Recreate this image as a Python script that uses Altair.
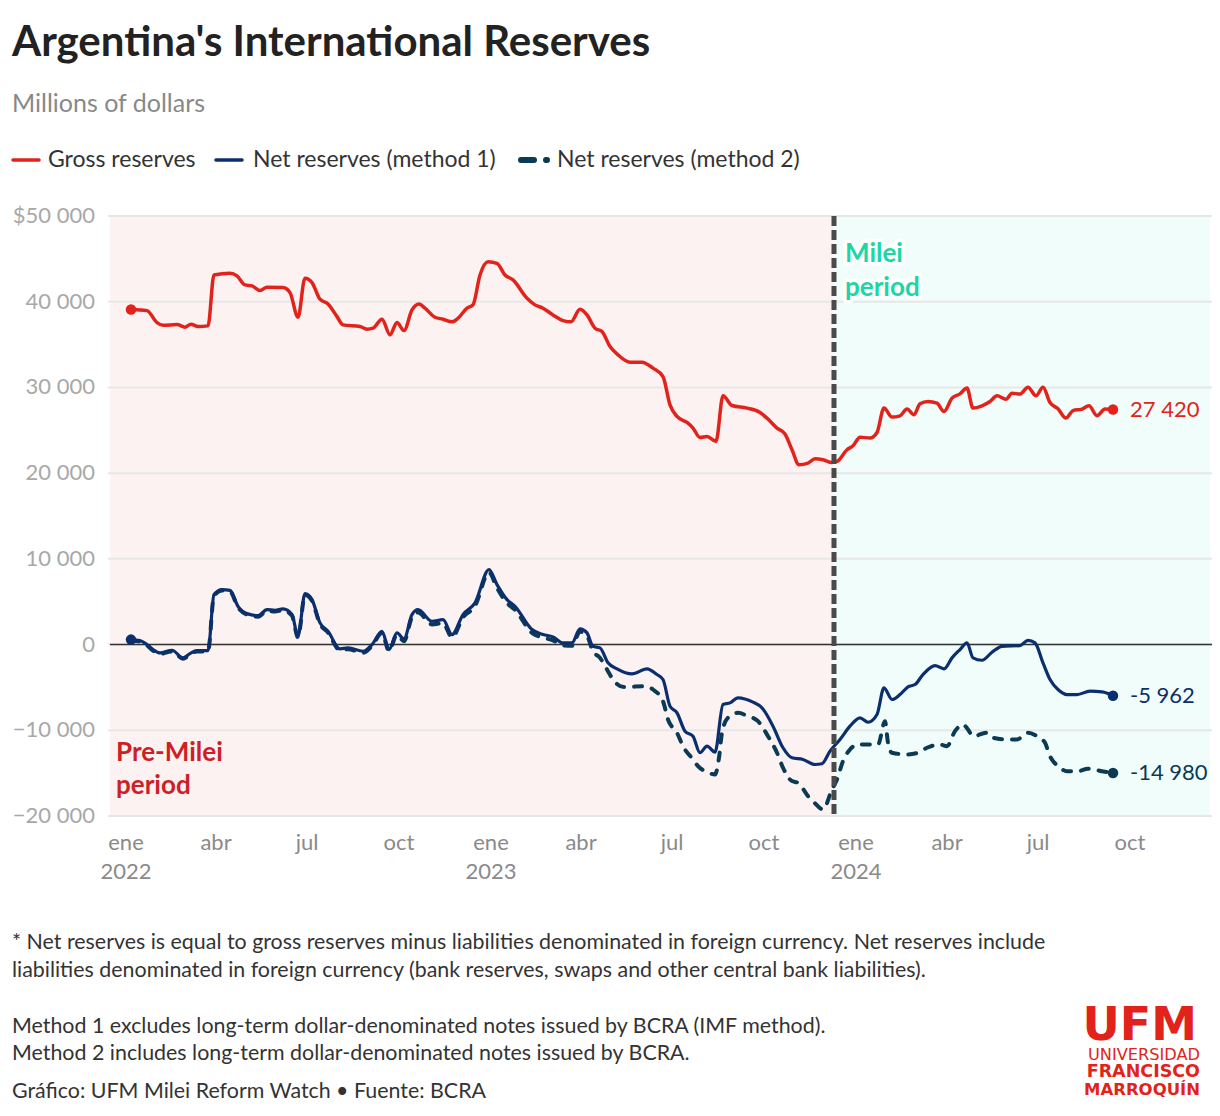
import altair as alt
import pandas as pd

FONT = "Lato"
LOGO_FONT = "DejaVu Sans"

# ---------------- data ----------------
gross_dates = ["2022-01-06","2022-01-22","2022-02-01","2022-02-07","2022-02-21","2022-03-01","2022-03-07","2022-03-14","2022-03-24","2022-03-30",
"2022-04-15","2022-04-22","2022-04-30","2022-05-07","2022-05-15","2022-05-22","2022-06-07","2022-06-14","2022-06-22","2022-06-29",
"2022-07-06","2022-07-14","2022-07-22","2022-07-31","2022-08-06","2022-08-23","2022-08-30","2022-09-05","2022-09-14","2022-09-22",
"2022-09-29","2022-10-06","2022-10-14","2022-10-21","2022-10-27","2022-11-06","2022-11-14","2022-11-23","2022-11-29","2022-12-08",
"2022-12-14","2022-12-21","2022-12-29","2023-01-07","2023-01-15","2023-01-23","2023-02-06","2023-02-14","2023-02-22","2023-03-04",
"2023-03-14","2023-03-22","2023-03-31","2023-04-07","2023-04-15","2023-04-22","2023-04-30","2023-05-08","2023-05-20","2023-06-01",
"2023-06-12","2023-06-22","2023-06-29","2023-07-06","2023-07-16","2023-07-22","2023-07-29","2023-08-05","2023-08-14","2023-08-21",
"2023-08-30","2023-09-14","2023-09-27","2023-10-04","2023-10-14","2023-10-22","2023-10-29","2023-11-05","2023-11-14","2023-11-21",
"2023-11-29","2023-12-08","2023-12-13","2023-12-23","2023-12-29","2024-01-05","2024-01-15","2024-01-22","2024-01-29","2024-02-06",
"2024-02-14","2024-02-21","2024-02-28","2024-03-05","2024-03-13","2024-03-22","2024-03-29","2024-04-06","2024-04-14","2024-04-21",
"2024-04-27","2024-05-06","2024-05-14","2024-05-21","2024-05-30","2024-06-05","2024-06-13","2024-06-21","2024-06-29","2024-07-06",
"2024-07-13","2024-07-21","2024-07-29","2024-08-05","2024-08-14","2024-08-21","2024-08-29","2024-09-06","2024-09-14"]
gross_values = [39100,38960,37560,37260,37330,37030,37380,37100,37180,43120,
43320,43010,41960,41840,41300,41690,41650,41060,38190,42740,
42230,40290,39740,38260,37300,37100,36800,36910,37960,36130,
37570,36630,39040,39740,39240,38190,37960,37650,38070,39240,
39630,43120,44670,44480,43120,42540,40400,39630,39240,38460,
37800,37650,39120,38460,36910,36520,34770,33800,32950,32950,
32250,31270,27970,26610,25910,25260,24160,24280,23700,29020,
27890,27590,27080,26420,25260,24560,22730,20980,21170,21680,
21560,21250,21360,22730,23190,24200,24090,24740,27590,26540,
26690,27470,26810,28090,28360,28170,27190,28750,29250,29920,
27590,27860,28360,29020,28630,29330,29220,30030,29020,30030,
28240,27510,26420,27300,27470,27860,26690,27470,27420]

net1_dates = ["2022-01-06","2022-01-15","2022-01-22","2022-01-28","2022-02-04","2022-02-16","2022-02-27","2022-03-06","2022-03-13","2022-03-24",
"2022-03-30","2022-04-07","2022-04-15","2022-04-23","2022-05-02","2022-05-13","2022-05-22","2022-05-30","2022-06-07","2022-06-16",
"2022-06-22","2022-06-29","2022-07-06","2022-07-14","2022-07-22","2022-08-03","2022-08-11","2022-08-26","2022-09-04","2022-09-14",
"2022-09-21","2022-09-29","2022-10-06","2022-10-14","2022-10-20","2022-11-03","2022-11-14","2022-11-23","2022-12-04","2022-12-16",
"2022-12-30","2023-01-07","2023-01-17","2023-01-25","2023-02-11","2023-02-22","2023-03-04","2023-03-14","2023-03-23","2023-03-31",
"2023-04-07","2023-04-13","2023-04-20","2023-04-28","2023-05-07","2023-05-22","2023-06-06","2023-06-16","2023-06-22","2023-06-29",
"2023-07-06","2023-07-14","2023-07-22","2023-07-29","2023-08-05","2023-08-13","2023-08-21","2023-08-28","2023-09-05","2023-09-20",
"2023-09-29","2023-10-10","2023-10-20","2023-10-29","2023-11-09","2023-11-21","2023-11-28","2023-12-06","2023-12-16","2023-12-26",
"2024-01-05","2024-01-13","2024-01-22","2024-01-29","2024-02-06","2024-02-14","2024-02-22","2024-02-29","2024-03-08","2024-03-20",
"2024-03-29","2024-04-06","2024-04-14","2024-04-21","2024-04-27","2024-05-06","2024-05-16","2024-05-26","2024-06-13","2024-06-21",
"2024-06-28","2024-07-06","2024-07-13","2024-07-21","2024-07-30","2024-08-09","2024-08-22","2024-09-03","2024-09-14"]
net1_values = [580,470,0,-580,-970,-660,-1550,-1050,-700,-700,
5830,6410,6330,4460,3610,3380,4080,4000,4160,3500,
970,5940,5240,2530,1550,-500,-390,-780,0,1550,
-580,1360,660,3500,4080,2720,2910,1170,3500,4860,
8740,7000,5240,4460,1750,1170,900,200,200,1830,
1360,-200,-390,-2130,-2830,-3420,-2830,-3500,-4080,-7190,
-7960,-10100,-10690,-12620,-11850,-12550,-6990,-6800,-6210,-6720,
-7380,-9520,-12040,-13210,-13400,-13990,-13900,-12430,-11070,-9520,
-8550,-9060,-8160,-5050,-6410,-5830,-4930,-4660,-3500,-2450,
-2830,-1550,-580,200,-1550,-1830,-900,-200,-120,500,
200,-2130,-4080,-5240,-5830,-5830,-5440,-5520,-5962]

net2_dates = ["2022-01-06","2022-01-15","2022-01-22","2022-01-28","2022-02-04","2022-02-16","2022-02-27","2022-03-06","2022-03-13","2022-03-24",
"2022-03-30","2022-04-07","2022-04-15","2022-04-23","2022-05-02","2022-05-13","2022-05-22","2022-05-30","2022-06-07","2022-06-16",
"2022-06-22","2022-06-29","2022-07-06","2022-07-14","2022-07-22","2022-08-03","2022-08-11","2022-08-26","2022-09-04","2022-09-14",
"2022-09-21","2022-09-29","2022-10-06","2022-10-14","2022-10-20","2022-11-03","2022-11-14","2022-11-23","2022-12-04","2022-12-16",
"2022-12-30","2023-01-07","2023-01-17","2023-01-25","2023-02-11","2023-02-22","2023-03-04","2023-03-14","2023-03-23","2023-03-31",
"2023-04-07","2023-04-13","2023-04-20","2023-04-27","2023-05-03","2023-05-14","2023-06-04","2023-06-12","2023-06-22","2023-06-27",
"2023-07-06","2023-07-12","2023-07-22","2023-07-27","2023-08-05","2023-08-13","2023-08-17","2023-08-20","2023-08-26","2023-09-05",
"2023-09-15","2023-09-25","2023-10-05","2023-10-14","2023-10-20","2023-10-29","2023-11-04","2023-11-14","2023-11-20","2023-11-29",
"2023-12-08","2023-12-13","2023-12-19","2023-12-26","2024-01-03","2024-01-10","2024-01-23","2024-01-30","2024-02-02","2024-02-06",
"2024-02-21","2024-03-03","2024-03-12","2024-03-25","2024-04-01","2024-04-09","2024-04-17","2024-04-22","2024-04-27","2024-05-11",
"2024-05-17","2024-05-31","2024-06-10","2024-06-21","2024-06-30","2024-07-08","2024-07-13","2024-07-21","2024-07-30","2024-08-10",
"2024-08-20","2024-09-03","2024-09-14"]
net2_values = [450,350,-100,-700,-1100,-800,-1650,-1150,-800,-800,
5700,6300,6200,4350,3500,3250,3950,3850,4000,3350,
850,5800,5100,2400,1400,-650,-550,-950,-150,1350,
-750,1150,400,3200,3750,2350,2500,850,3150,4500,
8400,6600,4850,4050,1350,800,500,-100,-150,1500,
1000,-780,-1550,-2910,-4080,-4950,-4860,-5240,-6610,-8740,
-10290,-11850,-13400,-14180,-14880,-15150,-13210,-10290,-8540,-7960,
-8360,-8940,-10690,-12620,-14370,-15930,-16120,-17680,-18400,-19230,
-16900,-15730,-13600,-12240,-11660,-11660,-11660,-8940,-11460,-12620,
-12820,-12620,-12040,-11660,-11850,-10100,-9320,-9910,-10690,-10290,
-10870,-11070,-11070,-10290,-10690,-11460,-13020,-14180,-14770,-14770,
-14490,-14770,-14980]

series_names = ["Gross reserves", "Net reserves (method 1)", "Net reserves (method 2)"]
end_labels = ["27 420", "-5 962", "-14 980"]

y_ticks = [-20000, -10000, 0, 10000, 20000, 30000, 40000, 50000]
y_tick_labels = ["\u221220 000", "\u221210 000", "0", "10 000", "20 000", "30 000", "40 000", "$50 000"]
x_tick_dates = ["2022-01-01", "2022-04-01", "2022-07-01", "2022-10-01", "2023-01-01", "2023-04-01",
                "2023-07-01", "2023-10-01", "2024-01-01", "2024-04-01", "2024-07-01", "2024-10-01"]
x_tick_months = ["ene", "abr", "jul", "oct", "ene", "abr", "jul", "oct", "ene", "abr", "jul", "oct"]
x_tick_years = ["2022", "", "", "", "2023", "", "", "", "2024", "", "", ""]

domain_start = (2021, 12, 16)
domain_end = (2024, 12, 20)
milei_start = (2023, 12, 10)
grid_end = (2024, 10, 1)

title_text = "Argentina's International Reserves"
subtitle_text = "Millions of dollars"
notes = [
    "* Net reserves is equal to gross reserves minus liabilities denominated in foreign currency. Net reserves include",
    "liabilities denominated in foreign currency (bank reserves, swaps and other central bank liabilities).",
    "Method 1 excludes long-term dollar-denominated notes issued by BCRA (IMF method).",
    "Method 2 includes long-term dollar-denominated notes issued by BCRA.",
    "Gráfico: UFM Milei Reform Watch • Fuente: BCRA",
]
logo_lines = ["UFM", "UNIVERSIDAD", "FRANCISCO", "MARROQUÍN"]

# ---------------- styles ----------------
RED = "#e2231b"
NAVY = "#0b2f6e"
TEAL = "#0b3a55"
PINK_BG = "#fbf2f1"
CYAN_BG = "#f0fdfa"
W, H = 1100, 600


def dt(t):
    return alt.DateTime(year=t[0], month=t[1], date=t[2] if len(t) > 2 else 1, utc=True)


def frame(dates, values):
    return pd.DataFrame({"date": dates, "value": values})


gross_df = frame(gross_dates, gross_values)
net1_df = frame(net1_dates, net1_values)
net2_df = frame(net2_dates, net2_values)

ends_df = pd.DataFrame({
    "date": [gross_dates[-1], net1_dates[-1], net2_dates[-1]],
    "value": [gross_values[-1], net1_values[-1], net2_values[-1]],
    "label": end_labels,
    "series": series_names,
})
starts_df = pd.DataFrame({
    "date": [gross_dates[0], net1_dates[0]],
    "value": [gross_values[0], net1_values[0]],
    "series": series_names[:2],
})
ytick_df = pd.DataFrame({"v": y_ticks, "lbl": y_tick_labels})
xtick_df = pd.DataFrame({"date": x_tick_dates, "month": x_tick_months, "year": x_tick_years})

x_scale = alt.Scale(type="utc", domain=[dt(domain_start), dt(domain_end)])
y_scale = alt.Scale(domain=[y_ticks[0], y_ticks[-1]], nice=False, zero=False)

one = pd.DataFrame({"s": [0]})

# backgrounds
bg_pink = alt.Chart(one).mark_rect(color=PINK_BG).encode(
    x=alt.XDatum(dt(domain_start), scale=x_scale, axis=None),
    x2=alt.X2Datum(dt(milei_start)),
    y=alt.value(0), y2=alt.value(H))
bg_cyan = alt.Chart(one).mark_rect(color=CYAN_BG).encode(
    x=alt.XDatum(dt(milei_start), axis=None),
    x2=alt.X2Datum(dt(domain_end)),
    y=alt.value(0), y2=alt.value(H))

grid = alt.Chart(ytick_df).mark_rule(color="#e7e7e7", strokeWidth=2).encode(
    y=alt.Y("v:Q", scale=y_scale, axis=None),
    x=alt.value(-2),
    x2=alt.X2Datum(dt(grid_end)))

zero = alt.Chart(one).mark_rule(color="#333333", strokeWidth=1.6).encode(
    y=alt.YDatum(0, axis=None),
    x=alt.value(0),
    x2=alt.X2Datum(dt(grid_end)))

vline = alt.Chart(one).mark_rule(color="#4a4a4a", strokeWidth=5, strokeDash=[10, 4]).encode(
    x=alt.XDatum(dt(milei_start), axis=None),
    y=alt.value(0), y2=alt.value(H))

# axis labels (drawn from tick arrays through the scales)
ylabels = alt.Chart(ytick_df).mark_text(align="right", baseline="middle", font=FONT, fontSize=22,
                                        color="#a8a8a8", dx=-15).encode(
    y=alt.Y("v:Q", axis=None), x=alt.value(0), text="lbl:N")
xmonths = alt.Chart(xtick_df).mark_text(align="center", baseline="middle", font=FONT, fontSize=22,
                                        color="#8a8a8a").encode(
    x=alt.X("date:T", axis=None), y=alt.value(H + 27), text="month:N")
xyears = alt.Chart(xtick_df).mark_text(align="center", baseline="middle", font=FONT, fontSize=22,
                                       color="#8a8a8a").encode(
    x=alt.X("date:T", axis=None), y=alt.value(H + 56), text="year:N")


def line_layer(df, color, width, dash=None):
    kw = dict(color=color, strokeWidth=width, interpolate="monotone", strokeCap="round", strokeJoin="round")
    if dash:
        kw["strokeDash"] = dash
    return alt.Chart(df).mark_line(**kw).encode(
        x=alt.X("date:T", axis=None), y=alt.Y("value:Q", axis=None))


gross_line = line_layer(gross_df, RED, 3.5)
net1_line = line_layer(net1_df, NAVY, 3.2)
net2_line = line_layer(net2_df, TEAL, 4, dash=[8, 10])

color_scale = alt.Scale(domain=series_names, range=[RED, NAVY, TEAL])

end_dots = alt.Chart(ends_df).mark_circle(size=110, opacity=1).encode(
    x=alt.X("date:T", axis=None), y=alt.Y("value:Q", axis=None),
    color=alt.Color("series:N", scale=color_scale, legend=None))
start_dots = alt.Chart(starts_df).mark_circle(size=110, opacity=1).encode(
    x=alt.X("date:T", axis=None), y=alt.Y("value:Q", axis=None),
    color=alt.Color("series:N", scale=color_scale, legend=None))
end_text = alt.Chart(ends_df).mark_text(align="left", baseline="middle", dx=17, font=FONT, fontSize=22).encode(
    x=alt.X("date:T", axis=None), y=alt.Y("value:Q", axis=None), text="label:N",
    color=alt.Color("series:N", scale=color_scale, legend=None))


def label(text, x, y, size, color, weight="normal", align="left", baseline="alphabetic", dx=0,
          font=FONT, **extra):
    return alt.Chart(one).mark_text(
        text=text, align=align, baseline=baseline, font=font, fontSize=size,
        fontWeight=weight, color=color, dx=dx, **extra).encode(x=x, y=y)


MILEI_C = "#1dd6a4"
PRE_C = "#cf1f26"
mx = alt.XDatum(dt(milei_start), axis=None)
milei_layers = []
for word, yv in [("Milei", 44600), ("period", 40700)]:
    milei_layers.append(label(word, mx, alt.YDatum(yv, axis=None), 26, "white", "bold", dx=11,
                              stroke="white", strokeWidth=7, strokeJoin="round"))
    milei_layers.append(label(word, mx, alt.YDatum(yv, axis=None), 26, MILEI_C, "bold", dx=11))
pre1 = label("Pre-Milei", alt.value(6), alt.YDatum(-13640, axis=None), 26, PRE_C, "bold")
pre2 = label("period", alt.value(6), alt.YDatum(-17480, axis=None), 26, PRE_C, "bold")

title = label(title_text, alt.value(-98), alt.value(-160), 42, "#222222", "bold")
subtitle = label(subtitle_text, alt.value(-98), alt.value(-104), 25, "#888888")


def legend_rule(x1, x2, color, width, dash=None):
    kw = dict(color=color, strokeWidth=width, strokeCap="round")
    if dash:
        kw["strokeDash"] = dash
    return alt.Chart(one).mark_rule(**kw).encode(
        x=alt.value(x1), x2=alt.value(x2), y=alt.value(-56))


leg = [
    legend_rule(-97, -71, RED, 3.5),
    label(series_names[0], alt.value(-62), alt.value(-56), 23, "#333333", baseline="middle"),
    legend_rule(106, 132, NAVY, 3.5),
    label(series_names[1], alt.value(143), alt.value(-56), 23, "#333333", baseline="middle"),
    legend_rule(411, 437, TEAL, 6, dash=[13, 12]),
    label(series_names[2], alt.value(447), alt.value(-56), 23, "#333333", baseline="middle"),
]

note_ys = [733, 761, 817, 844, 882]
note_layers = [label(t, alt.value(-98), alt.value(yv), 21.4, "#333333") for t, yv in zip(notes, note_ys)]

logo = [
    label(logo_lines[0], alt.value(1087), alt.value(824), 46, RED, "bold", align="right", font=LOGO_FONT),
    label(logo_lines[1], alt.value(1090), alt.value(844), 16.2, RED, align="right", font=LOGO_FONT),
    label(logo_lines[2], alt.value(1090), alt.value(861), 17.5, RED, "bold", align="right", font=LOGO_FONT),
    label(logo_lines[3], alt.value(1090), alt.value(879), 16.5, RED, "bold", align="right", font=LOGO_FONT),
]

chart = alt.layer(
    bg_pink, bg_cyan, grid, zero, net2_line, net1_line, gross_line, vline,
    start_dots, end_dots, end_text, ylabels, xmonths, xyears, *milei_layers, pre1, pre2,
    title, subtitle, *leg, *note_layers, *logo,
).properties(
    width=W, height=H,
    autosize=alt.AutoSizeParams(type="none"),
    padding={"left": 102, "top": 208, "right": 2, "bottom": 288},
    background="white",
).configure_view(stroke=None)

chart.save("out.html", embed_options={"renderer": "svg", "actions": False})
